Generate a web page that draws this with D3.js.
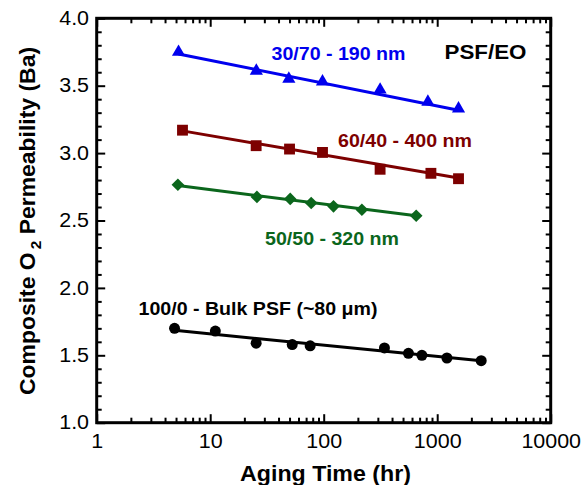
<!DOCTYPE html>
<html>
<head>
<meta charset="utf-8">
<script src="https://cdn.jsdelivr.net/npm/d3@7"></script>
<style>
  html, body { margin: 0; padding: 0; background: #fff; }
  svg { display: block; font-family: "Liberation Sans", Arial, sans-serif; }
</style>
</head>
<body>
<svg id="chart" width="584" height="485"></svg>
<script>
// ---- Data ----
const seriesNames = ["30/70 - 190 nm", "60/40 - 400 nm", "50/50 - 320 nm", "100/0 - Bulk PSF"];

const blueTime  = [5.26, 25.5, 49.3, 97.6, 314, 828, 1541];
const bluePerm  = [3.75, 3.61, 3.55, 3.53, 3.47, 3.38, 3.33];
const blueFit   = [[5.26, 3.735], [1541, 3.318]];

const redTime   = [5.7, 25.4, 50, 97.6, 314, 880, 1541];
const redPerm   = [3.17, 3.055, 3.03, 3.005, 2.88, 2.85, 2.81];
const redFit    = [[5.7, 3.165], [1541, 2.815]];

const greenTime = [5.19, 25.8, 50.7, 77.6, 122, 217, 653];
const greenPerm = [2.765, 2.675, 2.66, 2.63, 2.605, 2.58, 2.535];
const greenFit  = [[5.19, 2.76], [653, 2.535]];

const blackTime = [4.85, 11.1, 25.4, 52.8, 76, 343, 558, 733, 1218, 2442];
const blackPerm = [1.70, 1.68, 1.59, 1.58, 1.57, 1.555, 1.515, 1.50, 1.48, 1.46];
const blackFit  = [[4.85, 1.685], [2442, 1.459]];

const xTicks = [1, 10, 100, 1000, 10000];
const yTicks = [1.0, 1.5, 2.0, 2.5, 3.0, 3.5, 4.0];

// ---- Layout ----
const svg = d3.select("#chart");
const L = 96.7, R = 550.7, T = 18.3, B = 422.7;
const x = d3.scaleLog().domain([1, 10000]).range([L, R]);
const y = d3.scaleLinear().domain([1, 4]).range([B, T]);

const xMinor = [];
for (let k = 0; k < 4; k++) for (let m = 2; m <= 9; m++) xMinor.push(m * Math.pow(10, k));
const yMinor = d3.range(11, 40).map(v => v / 10).filter(v => Math.abs(v * 2 - Math.round(v * 2)) > 1e-6);

const TICKFONT = 19.5, TICKSTRETCH = 1.1;

function styleAxis(g) {
  g.select(".domain").remove();
  g.selectAll(".tick line").attr("stroke", "#000").attr("stroke-width", 2);
  g.selectAll(".tick text").attr("fill", "#000").attr("font-size", TICKFONT)
    .attr("font-family", "Liberation Sans, Arial, sans-serif")
    .attr("transform", `scale(${TICKSTRETCH},1)`);
}

// bottom axis
svg.append("g").attr("transform", `translate(0,${B})`)
  .call(d3.axisBottom(x).tickValues(xTicks).tickSize(-8.5).tickPadding(11).tickFormat(d3.format("d")))
  .call(styleAxis);
svg.append("g").attr("transform", `translate(0,${B})`)
  .call(d3.axisBottom(x).tickValues(xMinor).tickSize(-5).tickFormat(""))
  .call(styleAxis);
// top axis
svg.append("g").attr("transform", `translate(0,${T})`)
  .call(d3.axisTop(x).tickValues(xTicks).tickSize(-8.5).tickFormat(""))
  .call(styleAxis);
svg.append("g").attr("transform", `translate(0,${T})`)
  .call(d3.axisTop(x).tickValues(xMinor).tickSize(-5).tickFormat(""))
  .call(styleAxis);
// left axis
svg.append("g").attr("transform", `translate(${L},0)`)
  .call(d3.axisLeft(y).tickValues(yTicks).tickSize(-8.5).tickPadding(7).tickFormat(d3.format(".1f")))
  .call(styleAxis);
svg.append("g").attr("transform", `translate(${L},0)`)
  .call(d3.axisLeft(y).tickValues(yMinor).tickSize(-5).tickFormat(""))
  .call(styleAxis);
// right axis
svg.append("g").attr("transform", `translate(${R},0)`)
  .call(d3.axisRight(y).tickValues(yTicks).tickSize(-8.5).tickFormat(""))
  .call(styleAxis);
svg.append("g").attr("transform", `translate(${R},0)`)
  .call(d3.axisRight(y).tickValues(yMinor).tickSize(-5).tickFormat(""))
  .call(styleAxis);

// frame
svg.append("rect").attr("x", L).attr("y", T).attr("width", R - L).attr("height", B - T)
  .attr("fill", "none").attr("stroke", "#000").attr("stroke-width", 3);

// ---- Series ----
const series = [
  { t: blueTime,  p: bluePerm,  fit: blueFit,  color: "#0000ee", sym: d3.symbolTriangle, size: 75,  rot: 0 },
  { t: redTime,   p: redPerm,   fit: redFit,   color: "#7d0000", sym: d3.symbolSquare,   size: 118, rot: 0 },
  { t: greenTime, p: greenPerm, fit: greenFit, color: "#0b661c", sym: d3.symbolSquare,   size: 80,  rot: 45 },
  { t: blackTime, p: blackPerm, fit: blackFit, color: "#000000", sym: d3.symbolCircle,   size: 95,  rot: 0 }
];

const line = d3.line().x(d => x(d[0])).y(d => y(d[1]));

series.forEach(s => {
  svg.append("path").datum(s.fit).attr("d", line)
    .attr("fill", "none").attr("stroke", s.color).attr("stroke-width", 3);
  svg.append("g").selectAll("path").data(s.t.map((t, i) => [t, s.p[i]])).join("path")
    .attr("transform", d => `translate(${x(d[0])},${y(d[1])}) rotate(${s.rot})`)
    .attr("d", d3.symbol().type(s.sym).size(s.size))
    .attr("fill", s.color);
});

// ---- Annotations ----
function label(txt, px, py, color, anchor, size, stretch) {
  return svg.append("text")
    .attr("transform", `translate(${px},${py}) scale(${stretch},1)`)
    .attr("fill", color)
    .attr("font-size", size).attr("font-weight", "bold")
    .attr("text-anchor", anchor).text(txt);
}
label(seriesNames[0], 271.5, 60, series[0].color, "start", 18.5, 1.06);
label("PSF/EO", 526.5, 58.5, "#000", "end", 21, 1.065);
label(seriesNames[1], 338, 147, series[1].color, "start", 18.5, 1.06);
label(seriesNames[2], 399, 245, series[2].color, "end", 18.5, 1.06);
label(seriesNames[3] + " (~80 \u03BCm)", 138.5, 315, "#000", "start", 18.5, 1.06);

// axis titles
svg.append("text").attr("transform", "translate(325.5,481) scale(1.04,1)")
  .attr("text-anchor", "middle").attr("font-size", 22.3).attr("font-weight", "bold")
  .text("Aging Time (hr)");

const yt = svg.append("text").attr("transform", "translate(35,221) rotate(-90) scale(1.02,1)")
  .attr("text-anchor", "middle").attr("font-size", 22.5).attr("font-weight", "bold");
yt.append("tspan").text("Composite O");
yt.append("tspan").attr("font-size", 15).attr("dx", 3).attr("dy", 6).text("2");
yt.append("tspan").attr("dy", -6).text(" Permeability (Ba)");
</script>
</body>
</html>
